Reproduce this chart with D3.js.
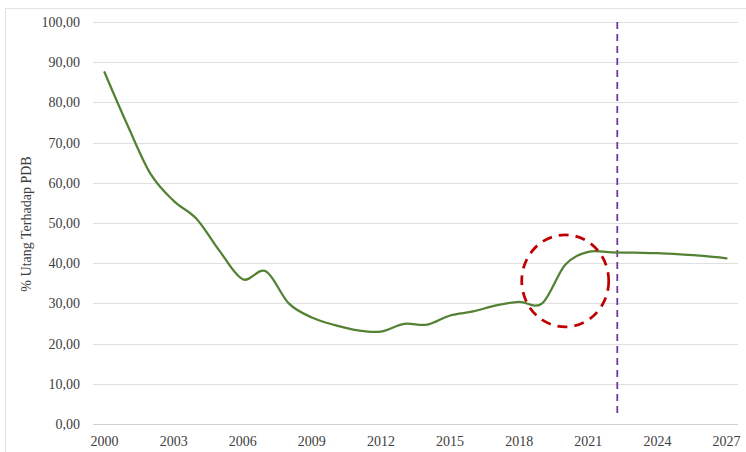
<!DOCTYPE html>
<html>
<head>
<meta charset="utf-8">
<script src="https://cdn.jsdelivr.net/npm/d3@7"></script>
<style>
  body { margin: 0; background: #fff; }
  text { font-family: "Liberation Serif", "DejaVu Serif", serif; fill: #404040; }
</style>
</head>
<body>
<div id="chart"></div>
<script>
// data
var years = d3.range(2000, 2028);
var debtRatio = [87.5, 74.3, 62.2, 55.5, 51.0, 43.0, 36.0, 38.0, 30.0, 26.5,
                 24.6, 23.3, 23.0, 24.9, 24.7, 27.0, 28.0, 29.5, 30.4, 30.0,
                 39.6, 42.8, 42.7, 42.6, 42.5, 42.2, 41.8, 41.2];
var yTicks = d3.range(0, 101, 10);
var xTickYears = [2000, 2003, 2006, 2009, 2012, 2015, 2018, 2021, 2024, 2027];
var forecastStart = 2022.26;   // purple dashed marker
var highlight = {year: 2020, value: 35.6};

var width = 746, height = 452;
var plotLeft = 93, plotRight = 738, plotTop = 22, plotBottom = 424;

var svg = d3.select("#chart").append("svg")
    .attr("width", width).attr("height", height);

// chart frame
svg.append("rect")
    .attr("x", 5.5).attr("y", 8.5)
    .attr("width", width).attr("height", height)
    .attr("fill", "#fff")
    .attr("stroke", "#e3e3e3");

var x = d3.scaleBand()
    .domain(years)
    .range([plotLeft, plotRight]);
var xc = function(yr) { return x(2000) + x.bandwidth() / 2 + (yr - 2000) * x.step(); };

var y = d3.scaleLinear()
    .domain([0, 100])
    .range([plotBottom, plotTop]);

var fmt = function(v) { return d3.format(".2f")(v).replace(".", ","); };

// gridlines
svg.append("g").selectAll("line")
    .data(yTicks)
    .enter().append("line")
    .attr("x1", plotLeft).attr("x2", plotRight)
    .attr("y1", function(d) { return Math.round(y(d)) + 0.5; })
    .attr("y2", function(d) { return Math.round(y(d)) + 0.5; })
    .attr("stroke", function(d) { return d === 0 ? "#d0d0d0" : "#e0e0e0"; })
    .attr("stroke-width", 1);

// y tick labels
svg.append("g").selectAll("text")
    .data(yTicks)
    .enter().append("text")
    .attr("x", 80)
    .attr("y", function(d) { return y(d); })
    .attr("dy", "0.35em")
    .attr("text-anchor", "end")
    .style("font-size", "14px")
    .text(fmt);

// x tick labels
svg.append("g").selectAll("text")
    .data(xTickYears)
    .enter().append("text")
    .attr("x", function(d) { return xc(d); })
    .attr("y", 446)
    .attr("text-anchor", "middle")
    .style("font-size", "14px")
    .text(function(d) { return d; });

// axis title
svg.append("text")
    .attr("transform", "translate(31," + 224 + ") rotate(-90)")
    .attr("text-anchor", "middle")
    .style("font-size", "14px")
    .text("% Utang Terhadap PDB");

// forecast marker
svg.append("line")
    .attr("x1", xc(forecastStart)).attr("x2", xc(forecastStart))
    .attr("y1", y(100)).attr("y2", 416)
    .attr("stroke", "#7030a0")
    .attr("stroke-width", 1.75)
    .attr("stroke-dasharray", "7,5");

// series
var line = d3.line()
    .x(function(d, i) { return xc(years[i]); })
    .y(function(d) { return y(d); })
    .curve(d3.curveCatmullRom.alpha(0));

svg.append("path")
    .datum(debtRatio)
    .attr("d", line)
    .attr("fill", "none")
    .attr("stroke", "#548235")
    .attr("stroke-width", 2.25)
    .attr("stroke-linecap", "round");

// highlight circle
svg.append("ellipse")
    .attr("cx", xc(highlight.year))
    .attr("cy", y(highlight.value))
    .attr("rx", 43.5)
    .attr("ry", 46)
    .attr("fill", "none")
    .attr("stroke", "#c00000")
    .attr("stroke-width", 2.75)
    .attr("stroke-dasharray", "10,7");
</script>
</body>
</html>
